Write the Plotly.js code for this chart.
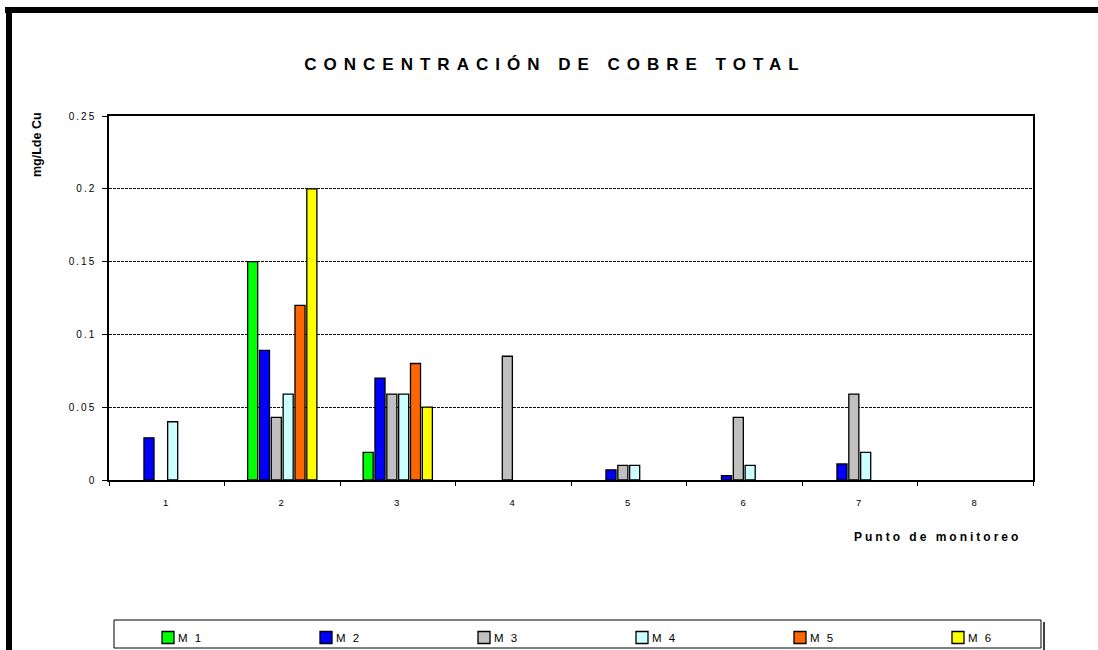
<!DOCTYPE html>
<html>
<head>
<meta charset="utf-8">
<script src="https://cdn.plot.ly/plotly-3.0.1.min.js"></script>
<style>
  html, body { margin: 0; padding: 0; background: #fff; }
  #wrap { position: relative; width: 1098px; height: 650px; overflow: hidden; }
  #plot { position: absolute; left: 0; top: 0; width: 1098px; height: 650px; }
  .frame { position: absolute; background: #000; }
  #plot .gtitle { letter-spacing: 7px; }
  #plot .xtitle-ann text { letter-spacing: 3px; }
  #plot .ytick text, #plot .xtick text { letter-spacing: 2px; }
  #plot text.legendtext, #plot text.legend2text, #plot text.legend3text,
  #plot text.legend4text, #plot text.legend5text, #plot text.legend6text {
    letter-spacing: 2px; transform: translateX(-10px);
  }
</style>
</head>
<body>
<div id="wrap">
  <div id="plot"></div>
  <div class="frame" style="left:5px; top:7px; width:1093px; height:6px;"></div>
  <div class="frame" style="left:6px; top:7px; width:6px; height:643px;"></div>
</div>
<script>
// Data
const categories = ["1", "2", "3", "4", "5", "6", "7", "8"];
const seriesNames = ["M 1", "M 2", "M 3", "M 4", "M 5", "M 6"];
const M1 = [null, 0.15, 0.019, null, null, null, null, null];
const M2 = [0.029, 0.089, 0.07, null, 0.007, 0.003, 0.011, null];
const M3 = [null, 0.043, 0.059, 0.085, 0.01, 0.043, 0.059, null];
const M4 = [0.04, 0.059, 0.059, null, 0.01, 0.01, 0.019, null];
const M5 = [null, 0.12, 0.08, null, null, null, null, null];
const M6 = [null, 0.2, 0.05, null, null, null, null, null];
const yTicks = [0, 0.05, 0.1, 0.15, 0.2, 0.25];
const yTickLabels = ["0", "0.05", "0.1", "0.15", "0.2", "0.25"];

const seriesValues = [M1, M2, M3, M4, M5, M6];
const colors = ["#00FF00", "#0000FF", "#C0C0C0", "#CCFFFF", "#FF6600", "#FFFF00"];
const legendIds = ["legend", "legend2", "legend3", "legend4", "legend5", "legend6"];

const traces = seriesValues.map((vals, i) => ({
  type: "bar",
  name: seriesNames[i],
  x: categories,
  y: vals,
  legend: legendIds[i],
  marker: { color: colors[i], line: { color: "#000", width: 1.3 } },
  hoverinfo: "x+y+name"
}));

const font = "Arial, 'Liberation Sans', sans-serif";

// plot area in pixels: left 109, right 1033, top 116, bottom 480
const L = 109, R = 1033, T = 116, B = 480;
const W = R - L, H = B - T;
const px = (x) => (x - L) / W;
const py = (y) => (B - y) / H;

const layout = {
  width: 1098,
  height: 650,
  margin: { l: L, r: 1098 - R, t: T, b: 650 - B, pad: 0 },
  paper_bgcolor: "rgba(0,0,0,0)",
  plot_bgcolor: "#fff",
  barmode: "group",
  bargap: 0.385,
  bargroupgap: 0.15,
  font: { family: font, color: "#000", size: 10 },
  title: {
    text: "<b>CONCENTRACIÓN DE COBRE TOTAL</b>",
    font: { family: font, size: 17, color: "#000" },
    x: 555 / 1098, xref: "container", xanchor: "center",
    y: 1 - 64 / 650, yref: "container", yanchor: "middle"
  },
  xaxis: {
    type: "category",
    tickvals: categories,
    ticktext: categories,
    showline: true, linecolor: "#000", linewidth: 1.5, mirror: true,
    ticks: "outside", tickson: "boundaries", ticklen: 4, tickcolor: "#000", tickwidth: 1,
    tickfont: { family: font, size: 9.5, color: "#000" },
    ticklabelstandoff: 13,
    showgrid: false, zeroline: false, fixedrange: true
  },
  yaxis: {
    range: [0, 0.25],
    tickvals: yTicks,
    ticktext: yTickLabels,
    showline: true, linecolor: "#000", linewidth: 1.5, mirror: true,
    ticks: "outside", ticklen: 5, tickcolor: "#000", tickwidth: 1,
    tickfont: { family: font, size: 10, color: "#000" },
    ticklabelstandoff: 4,
    showgrid: true, gridcolor: "#111", gridwidth: 1, griddash: "3px,1px",
    zeroline: false, fixedrange: true
  },
  showlegend: true,
  shapes: [
    { type: "rect", xref: "paper", yref: "paper",
      x0: px(114), x1: px(1041), y0: py(620), y1: py(648),
      line: { color: "#000", width: 1 }, fillcolor: "#fff", layer: "below" },
    { type: "line", xref: "paper", yref: "paper",
      x0: px(1044), x1: px(1044), y0: py(622), y1: py(650),
      line: { color: "#000", width: 1.5 } }
  ],
  annotations: [
    { text: "<b>mg/Lde Cu</b>", xref: "paper", yref: "paper",
      x: px(37), y: py(145), xanchor: "center", yanchor: "middle",
      textangle: -90, showarrow: false,
      font: { family: font, size: 12.5, color: "#000" } },
    { text: "<b>Punto de monitoreo</b>", xref: "paper", yref: "paper",
      x: px(937), y: py(537), xanchor: "center", yanchor: "middle",
      showarrow: false,
      font: { family: font, size: 12, color: "#000" } }
  ]
};

legendIds.forEach((id, i) => {
  layout[id] = {
    orientation: "h",
    xref: "container", yref: "container",
    x: (148 + i * 158) / 1098, xanchor: "left",
    y: 1 - 623 / 650, yanchor: "top",
    bgcolor: "rgba(0,0,0,0)",
    borderwidth: 0,
    font: { family: font, size: 11.5, color: "#000" },
    itemclick: false, itemdoubleclick: false
  };
});

const gd = document.getElementById("plot");
Plotly.newPlot(gd, traces, layout, { displayModeBar: false }).then(() => {
  const anns = document.querySelectorAll("#plot .annotation");
  if (anns[1]) anns[1].classList.add("xtitle-ann");
});
</script>
</body>
</html>
